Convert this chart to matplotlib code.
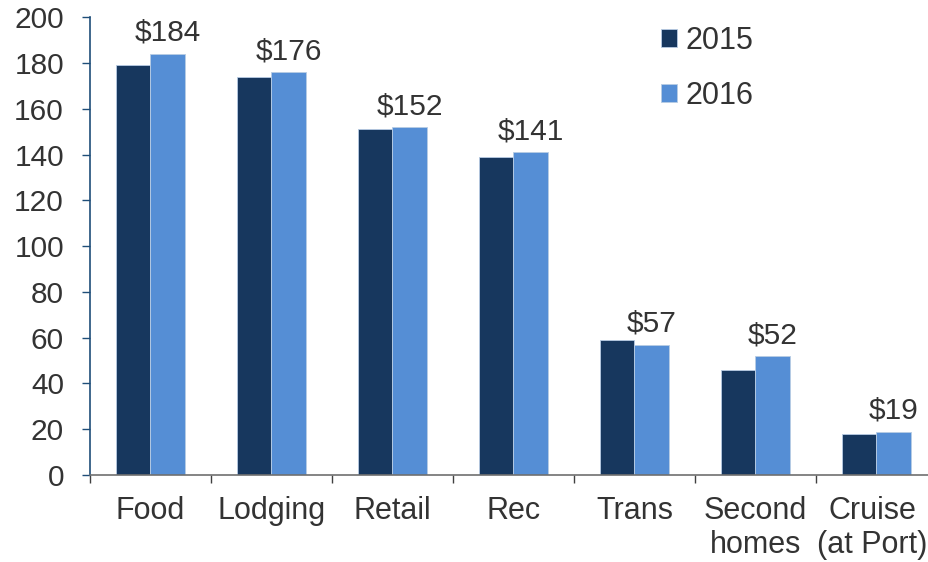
import matplotlib
matplotlib.use("Agg")
import matplotlib.pyplot as plt
import matplotlib.transforms as mtransforms
import numpy as np

plt.rcParams['font.family'] = ['Liberation Sans', 'DejaVu Sans']

categories = ["Food", "Lodging", "Retail", "Rec", "Trans", "Second\nhomes", "Cruise\n(at Port)"]
values_2015 = [179, 174, 151, 139, 59, 46, 18]
values_2016 = [184, 176, 152, 141, 57, 52, 19]
labels_2016 = ["$184", "$176", "$152", "$141", "$57", "$52", "$19"]

c15 = "#17375E"
c16 = "#558ED5"
txt = "#333333"
fs = 21.5

fig = plt.figure(figsize=(9.29, 5.62), dpi=100)
ax = fig.add_axes([90/929, 87/562, 847/929, 457.7/562])

x = np.arange(len(categories))
w = 0.285
ax.bar(x - w/2, values_2015, w, color=c15, edgecolor="#B8CCE4", linewidth=0.6, label="2015")
ax.bar(x + w/2, values_2016, w, color=c16, edgecolor="#B8CCE4", linewidth=0.6, label="2016")

for xi, v, lab in zip(x, values_2016, labels_2016):
    ax.annotate(lab, (xi + w/2, v), xytext=(0, 5), textcoords="offset points",
                ha="center", va="bottom", fontsize=fs, color=txt)

ax.set_xlim(-0.5, len(categories) - 0.5)
ax.set_ylim(0, 200)
ax.set_yticks(range(0, 201, 20))
ax.tick_params(axis="y", labelsize=fs, labelcolor=txt, direction="out", length=5.8, width=1,
               color="#1F4E79", pad=13)

ax.set_xticks(np.arange(-0.5, len(categories), 1.0))
ax.set_xticklabels([])
ax.tick_params(axis="x", direction="out", length=6, width=1, color="#404040")
ax.set_xticks(x, minor=True)
ax.set_xticklabels(categories, minor=True, fontsize=22, color=txt, linespacing=1.18)
ax.tick_params(axis="x", which="minor", length=0, pad=15)

# nudge the last label slightly left so it stays inside the image
last = ax.get_xticklabels(minor=True)[-1]
last.set_transform(last.get_transform() + mtransforms.ScaledTranslation(-4/100, 0, fig.dpi_scale_trans))

for s in ["top", "right"]:
    ax.spines[s].set_visible(False)
ax.spines["left"].set_color("#1F4E79")
ax.spines["left"].set_linewidth(1.2)
ax.spines["bottom"].set_color("#707070")
ax.spines["bottom"].set_linewidth(1.2)

leg = ax.legend(loc="upper left", bbox_to_anchor=(661/929, 1 - 26/562), bbox_transform=fig.transFigure,
                frameon=False, fontsize=22, borderpad=0, borderaxespad=0,
                handlelength=0.52, handleheight=0.52, handletextpad=0.27, labelspacing=0.82)
for t in leg.get_texts():
    t.set_color(txt)

fig.savefig("out.png", dpi=100)
